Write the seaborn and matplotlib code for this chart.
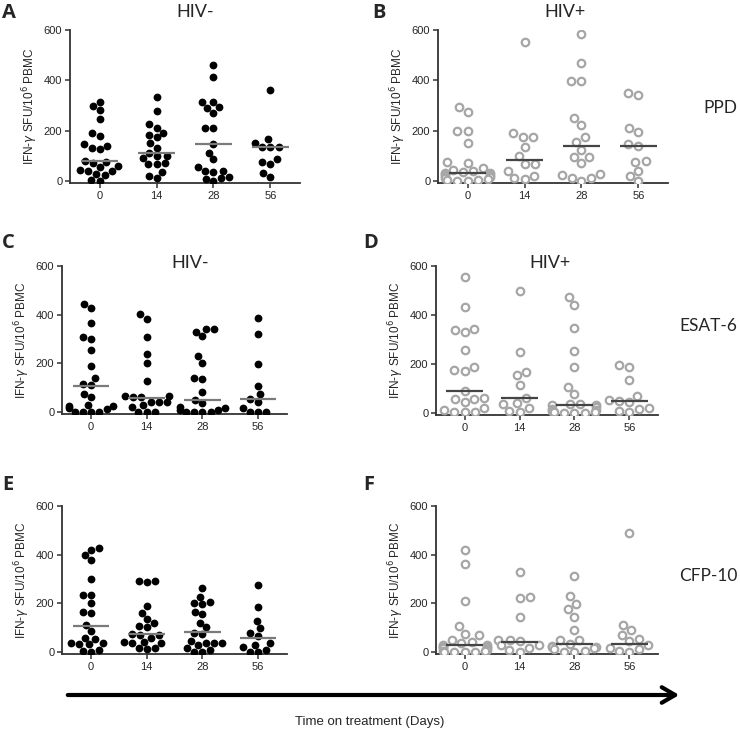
import pandas as pd
import matplotlib.pyplot as plt
import seaborn as sns
from matplotlib.patches import FancyArrowPatch

sns.set_style("ticks")
plt.rcParams['font.family'] = ['Liberation Sans', 'DejaVu Sans']

days = ["0", "14", "28", "56"]

# IFN-gamma SFU/10^6 PBMC per day
# PPD
ppd_neg = [
    [313, 299, 282, 246, 189, 180, 146, 140, 132, 127, 80, 75, 70, 60, 55, 45, 40, 38, 28, 24, 2, 0],
    [335, 280, 225, 210, 192, 183, 174, 152, 132, 113, 100, 98, 90, 70, 68, 66, 34, 21, 11],
    [461, 412, 315, 315, 295, 289, 272, 209, 209, 147, 113, 86, 57, 41, 41, 37, 17, 11, 7, 0],
    [362, 166, 152, 136, 136, 136, 86, 74, 68, 30, 17],
]
ppd_pos = [
    [295, 275, 200, 199, 150, 74, 73, 53, 45, 40, 35, 33, 30, 28, 25, 20, 15, 10, 8, 5, 3, 0, 0],
    [554, 190, 174, 174, 136, 101, 68, 68, 41, 20, 11, 8],
    [584, 468, 397, 397, 249, 222, 176, 156, 123, 97, 97, 70, 28, 24, 13, 11, 0],
    [348, 342, 212, 196, 147, 139, 81, 77, 40, 20, 0],
]
# ESAT-6
esat_neg = [
    [442, 426, 364, 307, 299, 255, 189, 138, 115, 111, 73, 60, 29, 25, 25, 18, 12, 1, 1, 1, 0],
    [401, 381, 310, 237, 203, 129, 67, 66, 63, 60, 42, 42, 42, 29, 19, 1, 1, 0],
    [341, 341, 330, 312, 230, 203, 138, 136, 84, 49, 36, 22, 18, 8, 8, 1, 1, 0, 0],
    [385, 321, 197, 108, 73, 52, 42, 18, 1, 1, 1],
]
esat_pos = [
    [554, 434, 342, 338, 329, 256, 188, 177, 171, 90, 63, 56, 56, 45, 20, 14, 4, 4, 4],
    [499, 250, 168, 154, 116, 61, 42, 38, 22, 8, 4],
    [475, 441, 349, 254, 186, 106, 76, 35, 35, 31, 31, 25, 15, 11, 10, 5, 4, 0, 0, 0],
    [195, 186, 134, 70, 52, 48, 45, 20, 18, 8, 4],
]
# CFP-10
cfp_neg = [
    [429, 419, 399, 378, 299, 234, 234, 200, 166, 159, 111, 86, 59, 52, 38, 36, 33, 32, 8, 4, 1],
    [292, 292, 286, 189, 162, 136, 121, 107, 104, 74, 70, 70, 56, 42, 40, 38, 38, 18, 18, 12],
    [262, 227, 207, 200, 197, 166, 156, 121, 101, 77, 73, 45, 36, 36, 36, 29, 15, 8, 1, 1],
    [275, 186, 127, 97, 77, 66, 36, 29, 19, 8, 1, 0],
]
cfp_pos = [
    [420, 361, 211, 106, 75, 70, 49, 42, 38, 30, 28, 25, 22, 20, 18, 15, 10, 5, 3, 2, 0, 0, 0],
    [329, 226, 222, 145, 49, 48, 45, 29, 29, 15, 7, 0],
    [314, 229, 198, 175, 145, 90, 49, 49, 35, 25, 22, 20, 15, 11, 4, 0, 0],
    [488, 113, 90, 72, 52, 45, 31, 18, 11, 4, 0],
]

# median bars as drawn in the figure
med_ppd_neg = [80, 113, 147, 136]
med_ppd_pos = [30, 83, 139, 140]
med_esat_neg = [108, 59, 49, 52]
med_esat_pos = [90, 61, 31, 49]
med_cfp_neg = [108, 74, 81, 59]
med_cfp_pos = [29, 42, 35, 35]

W, H = 740, 734


def to_frame(groups):
    rows = []
    for d, vals in zip(days, groups):
        for v in vals:
            rows.append({"day": d, "sfu": v})
    return pd.DataFrame(rows)


def rect(left, right, top, bottom):
    return [left / W, 1 - bottom / H, (right - left) / W, (bottom - top) / H]


fig = plt.figure(figsize=(W / 100, H / 100), dpi=100)

panels = [
    (rect(70, 300, 30, 183), ppd_neg, med_ppd_neg, True),
    (rect(438, 668, 30, 183), ppd_pos, med_ppd_pos, False),
    (rect(62, 287, 266, 414), esat_neg, med_esat_neg, True),
    (rect(436, 658, 266, 415), esat_pos, med_esat_pos, False),
    (rect(62, 287, 506, 654), cfp_neg, med_cfp_neg, True),
    (rect(436, 658, 506, 654), cfp_pos, med_cfp_pos, False),
]

for box, groups, meds, filled in panels:
    ax = fig.add_axes(box)
    df = to_frame(groups)
    if filled:
        sns.swarmplot(data=df, x="day", y="sfu", order=days, ax=ax,
                      color="black", size=5.6, linewidth=0)
        line_col = "#7a7a7a"
    else:
        sns.swarmplot(data=df, x="day", y="sfu", order=days, ax=ax,
                      color="white", edgecolor="#a6a6a6", linewidth=1.6, size=5.4)
        line_col = "#444444"
    for i, m in enumerate(meds):
        ax.hlines(m, i - 0.33, i + 0.33, color=line_col, lw=1.6, zorder=5)
    ax.set_ylim(-8, 600)
    ax.set_xlim(-0.52, 3.52)
    ax.set_yticks([0, 200, 400, 600])
    ax.set_xlabel("")
    ax.set_ylabel("IFN-$\\gamma$ SFU/10$^6$ PBMC", fontsize=8.5, labelpad=3)
    sns.despine(ax=ax)
    for s in ["left", "bottom"]:
        ax.spines[s].set_linewidth(1.3)
        ax.spines[s].set_color("#333333")
    ax.tick_params(length=3.5, width=1.1, labelsize=8, color="#333333", pad=2)

# panel letters, titles, antigen labels
for letter, x, y in [("A", 2, 3), ("B", 372, 3), ("C", 2, 233), ("D", 363, 233),
                     ("E", 2, 475), ("F", 363, 475)]:
    fig.text(x / W, 1 - y / H, letter, fontsize=14.5, fontweight="bold",
             family="Open Sans", va="top", ha="left")

for title, x, y in [("HIV-", 195, 12), ("HIV+", 565, 12), ("HIV-", 190, 263), ("HIV+", 550, 263)]:
    fig.text(x / W, 1 - y / H, title, fontsize=13, family="Lato",
             ha="center", va="center")

for lab, y in [("PPD", 108), ("ESAT-6", 326), ("CFP-10", 576)]:
    fig.text(737 / W, 1 - y / H, lab, fontsize=12.5, family="Lato",
             ha="right", va="center")

# time arrow
arrow = FancyArrowPatch((65 / W, 1 - 695 / H), (682 / W, 1 - 695 / H),
                        transform=fig.transFigure, arrowstyle="->,head_length=0.6,head_width=0.35",
                        mutation_scale=16, lw=3, color="black")
fig.add_artist(arrow)
fig.text(370 / W, 1 - 722 / H, "Time on treatment (Days)", fontsize=9.5,
         ha="center", va="center")

fig.savefig("out.png", dpi=100)
